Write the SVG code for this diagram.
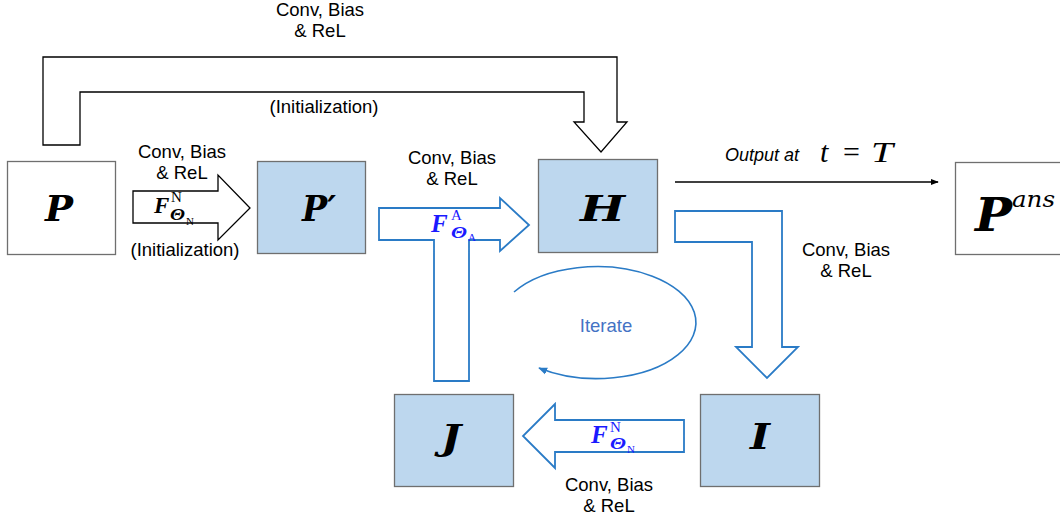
<svg xmlns="http://www.w3.org/2000/svg" width="1060" height="521" viewBox="0 0 1060 521">
<style>
.lbl{font-family:"Liberation Sans",Arial,sans-serif;font-size:18.5px;fill:#000;text-anchor:middle}
.box{fill:#bdd7ee;stroke:#6f6f6f;stroke-width:1.3}
.wbox{fill:#fff;stroke:#6f6f6f;stroke-width:1.3}
.math{font-family:"DejaVu Serif","Liberation Serif",serif;font-weight:bold;font-style:italic}
.fm{font-family:"Liberation Serif","Times New Roman",serif;font-weight:bold;font-style:italic}
.rm{font-family:"Liberation Serif","Times New Roman",serif;font-weight:normal;font-style:normal}
.it{font-family:"DejaVu Serif","Liberation Serif",serif;font-style:italic}
.barrow{fill:#fff;stroke:#000;stroke-width:1.3;stroke-linejoin:miter}
.blarrow{fill:#fff;stroke:#2a7bc6;stroke-width:1.8;stroke-linejoin:miter}
.blue{fill:#1a1aff}
</style>
<defs>
<marker id="ah" viewBox="0 0 10 10" refX="9" refY="5" markerWidth="8" markerHeight="8" markerUnits="userSpaceOnUse" orient="auto">
<path d="M0,1 L10,5 L0,9 Z" fill="#000"/>
</marker>
<marker id="ahb" viewBox="0 0 10 10" refX="9" refY="5" markerWidth="9" markerHeight="9" markerUnits="userSpaceOnUse" orient="auto">
<path d="M0,1 L10,5 L0,9 Z" fill="#2a7bc6"/>
</marker>
</defs>

<g id="connectors">
<path class="barrow" d="M43,145 L43,57 L617,57 L617,122 L627,122 L601,152 L574,122 L584,122 L584,92 L80,92 L80,145 Z"/>
<path class="barrow" d="M133,191 L218,191 L218,175 L250,208 L218,240 L218,223 L133,223 Z"/>
<path class="blarrow" d="M379,208 L500,208 L500,198 L529,225 L500,251 L500,240 L469,240 L469,381 L434,381 L434,240 L379,240 Z"/>
<path class="blarrow" d="M675,211 L782,211 L782,347 L798,347 L767,378 L736,347 L752,347 L752,242 L675,242 Z"/>
<path class="blarrow" d="M684,420 L555,420 L555,404 L523,436 L555,468 L555,452 L684,452 Z"/>
<path d="M675,182 L938,182" stroke="#000" stroke-width="1.5" fill="none" marker-end="url(#ah)"/>
<path d="M514,292 A99,56 0 1 1 539,368" stroke="#2a7bc6" stroke-width="1.6" fill="none" marker-end="url(#ahb)"/>

<text class="lbl" x="320" y="16">Conv, Bias</text>
<text class="lbl" x="320" y="37">&amp; ReL</text>
<text class="lbl" x="324" y="113">(Initialization)</text>
<text class="lbl" x="182" y="158">Conv, Bias</text>
<text class="lbl" x="182" y="179">&amp; ReL</text>
<text class="lbl" x="185" y="256">(Initialization)</text>
<text class="lbl" x="452" y="164">Conv, Bias</text>
<text class="lbl" x="452" y="185">&amp; ReL</text>
<text class="lbl" x="846" y="256">Conv, Bias</text>
<text class="lbl" x="846" y="277">&amp; ReL</text>
<text class="lbl" x="609" y="491">Conv, Bias</text>
<text class="lbl" x="609" y="512">&amp; ReL</text>
<text class="lbl" x="606" y="332" style="fill:#4472c4">Iterate</text>
<text x="725" y="161" style="font-family:'Liberation Sans',Arial,sans-serif;font-size:18px;font-style:italic">Output at</text>
<text x="820" y="162" style="font-family:'Liberation Serif',serif;font-size:30px;font-style:italic">t</text>
<text x="843" y="162" style="font-family:'Liberation Serif',serif;font-size:30px">=</text>
<text x="871" y="162" style="font-family:'Liberation Serif',serif;font-size:30px;font-style:italic" textLength="22" lengthAdjust="spacingAndGlyphs">T</text>

<text x="154" y="213" class="fm" style="font-size:23px">F</text>
<text x="171" y="202" class="rm" style="font-size:15px">N</text>
<text x="170" y="220" class="fm" style="font-size:16px" textLength="15" lengthAdjust="spacingAndGlyphs">Θ</text>
<text x="186" y="225" class="rm" style="font-size:11px">N</text>

<text x="431" y="232" class="fm blue" style="font-size:25px">F</text>
<text x="451" y="220" class="rm blue" style="font-size:15px">A</text>
<text x="451" y="238" class="fm blue" style="font-size:16px" textLength="16" lengthAdjust="spacingAndGlyphs">Θ</text>
<text x="468" y="241" class="rm blue" style="font-size:11px">A</text>

<text x="591" y="443" class="fm blue" style="font-size:25px">F</text>
<text x="610" y="432" class="rm blue" style="font-size:15px">N</text>
<text x="610" y="449" class="fm blue" style="font-size:16px" textLength="16" lengthAdjust="spacingAndGlyphs">Θ</text>
<text x="627" y="453" class="rm blue" style="font-size:11px">N</text>
</g>

<g id="node-P">
<rect class="wbox" x="7.5" y="161.5" width="108" height="93"/>
<text x="45" y="221" class="math" style="font-size:36px" textLength="28" lengthAdjust="spacingAndGlyphs">P</text>
</g>
<g id="node-Pprime">
<rect class="box" x="257.5" y="161.5" width="108" height="92"/>
<text x="302" y="221" class="math" style="font-size:36px" textLength="34" lengthAdjust="spacingAndGlyphs">P′</text>
</g>
<g id="node-H">
<rect class="box" x="538.5" y="159.5" width="119" height="93"/>
<text x="580" y="221" class="math" style="font-size:36px" textLength="45" lengthAdjust="spacingAndGlyphs">H</text>
</g>
<g id="node-I">
<rect class="box" x="700.5" y="394.5" width="119" height="92"/>
<text x="750" y="449" class="math" style="font-size:36px" textLength="20" lengthAdjust="spacingAndGlyphs">I</text>
</g>
<g id="node-J">
<rect class="box" x="394.5" y="394.5" width="119" height="92"/>
<text x="441" y="450" class="math" style="font-size:36px" textLength="20" lengthAdjust="spacingAndGlyphs">J</text>
</g>
<g id="node-Pans">
<rect class="wbox" x="955.5" y="162.5" width="110" height="92"/>
<text x="975" y="231" class="math" style="font-size:46px" textLength="37" lengthAdjust="spacingAndGlyphs">P</text>
<text x="1012" y="207" class="it" style="font-size:22px" textLength="43" lengthAdjust="spacingAndGlyphs">ans</text>
</g>
</svg>
